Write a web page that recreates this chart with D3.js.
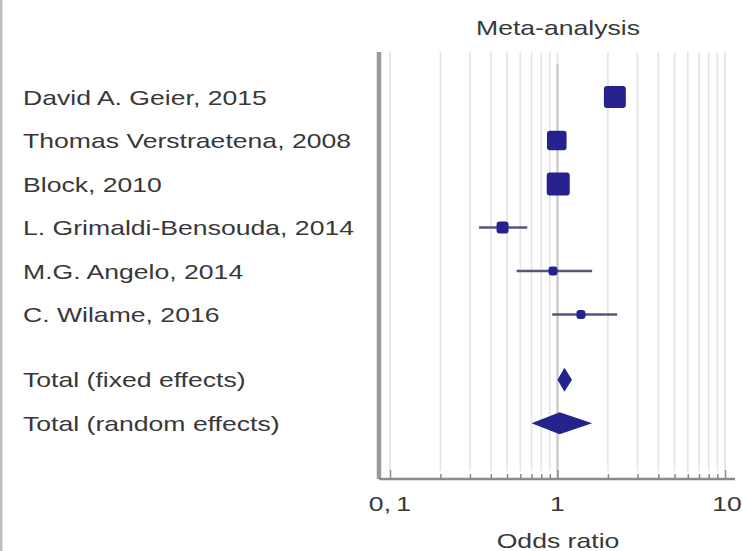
<!DOCTYPE html>
<html>
<head>
<meta charset="utf-8">
<script src="https://cdn.jsdelivr.net/npm/d3@7"></script>
<style>
  html, body { margin: 0; padding: 0; background: #fff; }
  svg { display: block; }
</style>
</head>
<body>
<svg id="chart" width="742" height="551"></svg>
<script>
// ---- data ----
const studies = ["David A. Geier, 2015", "Thomas Verstraetena, 2008", "Block, 2010",
                 "L. Grimaldi-Bensouda, 2014", "M.G. Angelo, 2014", "C. Wilame, 2016"];
const oddsRatio = [2.20, 0.99, 1.01, 0.47, 0.94, 1.38];
const ciLow  = [2.02, 0.90, 0.91, 0.34, 0.57, 0.93];
const ciHigh = [2.40, 1.09, 1.12, 0.66, 1.61, 2.27];
const weights = [30, 24, 33, 9, 5, 5];
const totals = ["Total (fixed effects)", "Total (random effects)"];
const totalOR = [1.10, 1.03];
const totalLow = [1.00, 0.70];
const totalHigh = [1.22, 1.61];
const tickValues = [0.1, 1, 10];
const tickLabels = ["0,1", "1", "10"];

// ---- layout ----
const svg = d3.select("#chart");
const color = "#25228e";
const textColor = "#383838";
const font = "'Liberation Sans', Arial, sans-serif";
const fs = 20, sx = 1.33;

const x = d3.scaleLog().domain([0.1, 10]).range([390, 725]);
const rowPos = d3.scaleLinear().domain([0, 1]).range([97, 140.5]);
const studyRows = studies.map((d, i) => i);
const totalRows = [6.5, 7.5];
const sizeScale = d3.scaleSqrt().domain([0, d3.max(weights)]).range([0, 23]);

const plotTop = 52, axisY = 479;

function addText(g, px, py, str, anchor) {
  return g.append("text")
    .attr("transform", `translate(${px},${py}) scale(${sx},1)`)
    .attr("text-anchor", anchor || "start")
    .attr("font-family", font).attr("font-size", fs).attr("fill", textColor)
    .text(str);
}

// left frame line
svg.append("line").attr("x1", 1).attr("x2", 1).attr("y1", 0).attr("y2", 551)
  .attr("stroke", "#bdbdbd").attr("stroke-width", 3);

// grid lines at each log minor tick
const gridVals = [];
for (let dec of [0.1, 1]) for (let k = 1; k <= 9; k++) gridVals.push(+(dec * k).toFixed(2));
gridVals.push(10);
svg.append("g").selectAll("line").data(gridVals).join("line")
  .attr("x1", d => x(d)).attr("x2", d => x(d))
  .attr("y1", plotTop).attr("y2", axisY - 8)
  .attr("stroke", "#e4e4e4").attr("stroke-width", 1.6);

// reference line at OR = 1
svg.append("line").attr("x1", x(1)).attr("x2", x(1))
  .attr("y1", 64).attr("y2", axisY)
  .attr("stroke", "#c4c4c4").attr("stroke-width", 2);

// left axis line
svg.append("line").attr("x1", 379).attr("x2", 379)
  .attr("y1", plotTop).attr("y2", axisY)
  .attr("stroke", "#9a9a9a").attr("stroke-width", 4.5);

// bottom axis
const axis = d3.axisBottom(x).tickValues(gridVals).tickSize(0).tickFormat("");
const gAxis = svg.append("g").attr("transform", `translate(0,${axisY})`).call(axis);
gAxis.select(".domain").remove();
gAxis.append("line").attr("x1", 379).attr("x2", 735).attr("y1", 0).attr("y2", 0)
  .attr("stroke", "#8a8a8a").attr("stroke-width", 2.5);
gAxis.selectAll(".tick line").attr("y2", d => tickValues.includes(d) ? -9 : -5)
  .attr("stroke", "#888").attr("stroke-width", 1.5);

// major tick labels
const gTick = svg.append("g");
tickValues.forEach((v, i) => {
  const t = addText(gTick, x(v) + (i === 2 ? 2 : 0), 511, "", "middle");
  if (i === 0) {
    const parts = tickLabels[i].split(",");
    t.append("tspan").text(parts[0] + ",");
    t.append("tspan").attr("dx", 4).text(parts[1]);
  } else {
    t.text(tickLabels[i]);
  }
});

// titles
addText(svg, 558, 35, "Meta-analysis", "middle");
addText(svg, 558, 548, "Odds ratio", "middle");

// study labels
const gLab = svg.append("g");
studies.forEach((s, i) => addText(gLab, 23, rowPos(studyRows[i]) + 7.5, s));
totals.forEach((s, i) => addText(gLab, 23, rowPos(totalRows[i]) + 7.5, s));

// CI lines
svg.append("g").selectAll("line").data(studies).join("line")
  .attr("x1", (d, i) => x(ciLow[i])).attr("x2", (d, i) => x(ciHigh[i]))
  .attr("y1", (d, i) => rowPos(studyRows[i])).attr("y2", (d, i) => rowPos(studyRows[i]))
  .attr("stroke", "#57557e").attr("stroke-width", 2.5);

// squares
svg.append("g").selectAll("rect").data(studies).join("rect")
  .attr("x", (d, i) => x(oddsRatio[i]) - sizeScale(weights[i]) / 2)
  .attr("y", (d, i) => rowPos(studyRows[i]) - sizeScale(weights[i]) / 2)
  .attr("width", (d, i) => sizeScale(weights[i]))
  .attr("height", (d, i) => sizeScale(weights[i]))
  .attr("rx", 3)
  .attr("fill", color);

// diamonds
const diamondH = [24, 22];
svg.append("g").selectAll("path").data(totals).join("path")
  .attr("d", (d, i) => {
    const cy = rowPos(totalRows[i]), h = diamondH[i] / 2;
    return `M${x(totalLow[i])},${cy} L${x(totalOR[i])},${cy - h} L${x(totalHigh[i])},${cy} L${x(totalOR[i])},${cy + h} Z`;
  })
  .attr("fill", color);
</script>
</body>
</html>
